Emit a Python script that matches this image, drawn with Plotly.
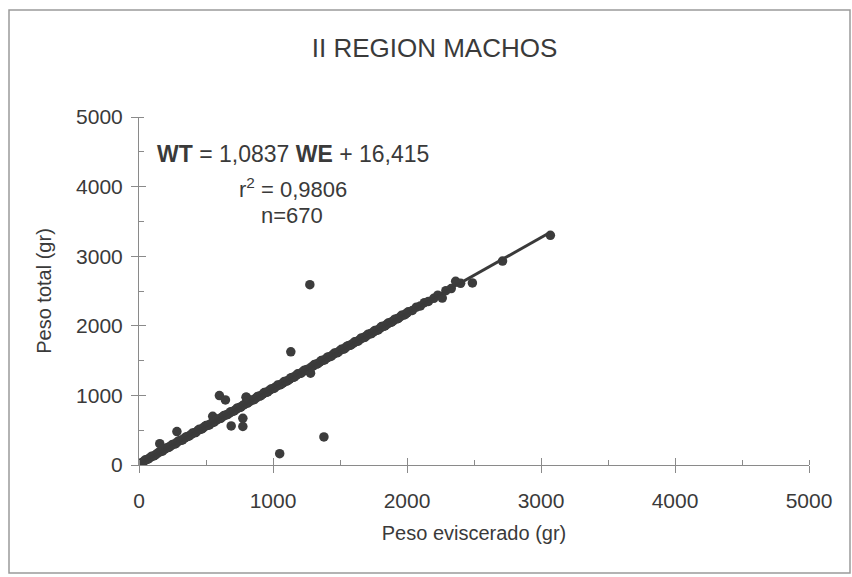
import plotly.graph_objects as go

# ---- data ----
peso_eviscerado = [
    20, 35, 45, 60, 70, 85, 95, 110, 120, 135, 150, 165, 175, 190, 200, 215, 225, 240,
    250, 265, 275, 290, 300, 315, 325, 340, 350, 365, 375, 390, 400, 415, 425, 440,
    450, 465, 475, 490, 500, 515, 525, 540, 550, 560, 575, 585, 600, 610, 625, 635,
    650, 660, 675, 685, 700, 710, 725, 735, 750, 760, 775, 785, 800, 810, 825, 835,
    850, 860, 875, 885, 900, 910, 925, 935, 950, 960, 975, 985, 1000, 1010, 1025,
    1035, 1050, 1060, 1075, 1085, 1100, 1110, 1125, 1135, 1150, 1160, 1175, 1185,
    1200, 1210, 1225, 1235, 1250, 1260, 1280, 1285, 1300, 1310, 1325, 1335, 1350,
    1360, 1375, 1385, 1400, 1410, 1425, 1435, 1450, 1460, 1475, 1485, 1500, 1510,
    1525, 1535, 1550, 1560, 1575, 1585, 1600, 1610, 1625, 1635, 1650, 1660, 1675,
    1685, 1700, 1710, 1725, 1735, 1750, 1760, 1775, 1785, 1800, 1810, 1825, 1835,
    1850, 1860, 1875, 1885, 1900, 1910, 1925, 1935, 1950, 1960, 1975, 1985, 2000,
    2010, 2040, 2070, 2100, 2130, 2160, 2200, 2230, 2263, 2290, 2330, 2363, 2400,
    2488, 2713, 3070,
    # outliers
    155, 283, 600, 645, 688, 775, 775, 800, 1050, 1133, 1275, 1380,
]
peso_total = [
    35, 50, 72, 80, 88, 110, 125, 130, 140, 165, 185, 195, 200, 225, 240, 250, 255, 278,
    295, 300, 308, 335, 350, 355, 362, 385, 402, 410, 418, 440, 458, 462, 470, 498,
    512, 515, 525, 550, 566, 570, 578, 600, 700, 615, 640, 658, 665, 670, 695, 712,
    720, 725, 745, 766, 770, 778, 800, 820, 825, 832, 855, 868, 975, 888, 912, 930,
    935, 940, 965, 985, 990, 995, 1020, 1040, 1045, 1050, 1075, 1092, 1098, 1105,
    1128, 1148, 1150, 1158, 1180, 1200, 1205, 1212, 1235, 1255, 1260, 1265, 1290,
    1310, 1315, 1320, 1345, 1362, 1370, 1375, 1320, 1405, 1425, 1445, 1450, 1455,
    1480, 1500, 1505, 1510, 1535, 1552, 1556, 1565, 1590, 1608, 1612, 1618, 1645,
    1662, 1665, 1672, 1700, 1715, 1720, 1728, 1750, 1770, 1775, 1780, 1805, 1825,
    1830, 1835, 1858, 1880, 1885, 1888, 1912, 1932, 1936, 1940, 1968, 1990, 1993,
    1998, 2022, 2040, 2048, 2052, 2075, 2095, 2100, 2105, 2130, 2150, 2155, 2160,
    2185, 2202, 2220, 2268, 2285, 2332, 2350, 2395, 2440, 2399, 2505, 2535, 2640,
    2610, 2616, 2930, 3300,
    # outliers
    307, 481, 997, 935, 562, 670, 553, 975, 162, 1626, 2591, 403,
]

# regression line (as printed on the chart)
pendiente = 1.0837
intercepto = 16.415
recta_x = [20, 3070]
recta_y = [pendiente * v + intercepto for v in recta_x]

eje_ticks = [0, 1000, 2000, 3000, 4000, 5000]
titulo = "II REGION MACHOS"
titulo_x = "Peso eviscerado (gr)"
titulo_y = "Peso total (gr)"

TXT = "#3a3a3a"
AX = "#8a8a8a"
FONT = "Liberation Sans, Arial, sans-serif"

fig = go.Figure()
fig.add_trace(go.Scatter(
    x=peso_eviscerado, y=peso_total, mode="markers",
    marker=dict(size=9.5, color="#3c3c3c", line=dict(width=0)),
    showlegend=False, hoverinfo="skip",
))
fig.add_trace(go.Scatter(
    x=recta_x, y=recta_y, mode="lines", xaxis="x2", yaxis="y2",
    line=dict(color="#3a3a3a", width=3), showlegend=False, hoverinfo="skip",
))

axis_common = dict(
    range=[0, 5000], tickvals=eje_ticks, showgrid=False, zeroline=False,
    showline=True, linecolor=AX, linewidth=1,
    ticks="outside", ticklen=7, tickcolor=AX, tickwidth=1,
    tickfont=dict(family=FONT, size=21, color=TXT),
    minor=dict(dtick=500, ticks="inside", ticklen=5, tickcolor=AX, tickwidth=1),
)
overlay_common = dict(
    range=[0, 5000], tickvals=eje_ticks, showgrid=False, zeroline=False,
    showline=False, ticks="inside", ticklen=7, tickcolor=AX, tickwidth=1,
    showticklabels=False,
)

fig.update_layout(
    width=852, height=577,
    margin=dict(l=139, r=43, t=117, b=112),
    paper_bgcolor="white", plot_bgcolor="white",
    font=dict(family=FONT, color=TXT),
    xaxis=dict(**axis_common,
               title=dict(text=titulo_x, font=dict(family=FONT, size=20, color=TXT), standoff=14),
               ticklabelstandoff=10),
    yaxis=dict(**axis_common,
               title=dict(text=titulo_y, font=dict(family=FONT, size=20, color=TXT), standoff=19),
               ticklabelstandoff=4),
    xaxis2=dict(**overlay_common, overlaying="x", anchor="y2"),
    yaxis2=dict(**overlay_common, overlaying="y", anchor="x2"),
    title=dict(text=titulo, x=0.51, xanchor="center", y=1 - 48 / 577, yanchor="middle",
               font=dict(family=FONT, size=26, color=TXT)),
    shapes=[dict(type="rect", xref="paper", yref="paper",
                 x0=-130 / 670, x1=1 + 41 / 670, y0=-108 / 348, y1=1 + 107 / 348,
                 line=dict(color="#9a9a9a", width=1.5), layer="below")],
    annotations=[
        dict(text="<b>WT</b> = 1,0837 <b>WE</b> + 16,415", xref="paper", yref="paper",
             x=(293 - 139) / 670, y=(465 - 154) / 348, xanchor="center", yanchor="middle",
             showarrow=False, font=dict(family=FONT, size=23, color=TXT)),
        dict(text="r<sup>2</sup> = 0,9806", xref="paper", yref="paper",
             x=(293 - 139) / 670, y=(465 - 188) / 348, xanchor="center", yanchor="middle",
             showarrow=False, font=dict(family=FONT, size=22, color=TXT)),
        dict(text="n=670", xref="paper", yref="paper",
             x=(292 - 139) / 670, y=(465 - 215) / 348, xanchor="center", yanchor="middle",
             showarrow=False, font=dict(family=FONT, size=22, color=TXT)),
    ],
)

fig.write_html("out.html")
